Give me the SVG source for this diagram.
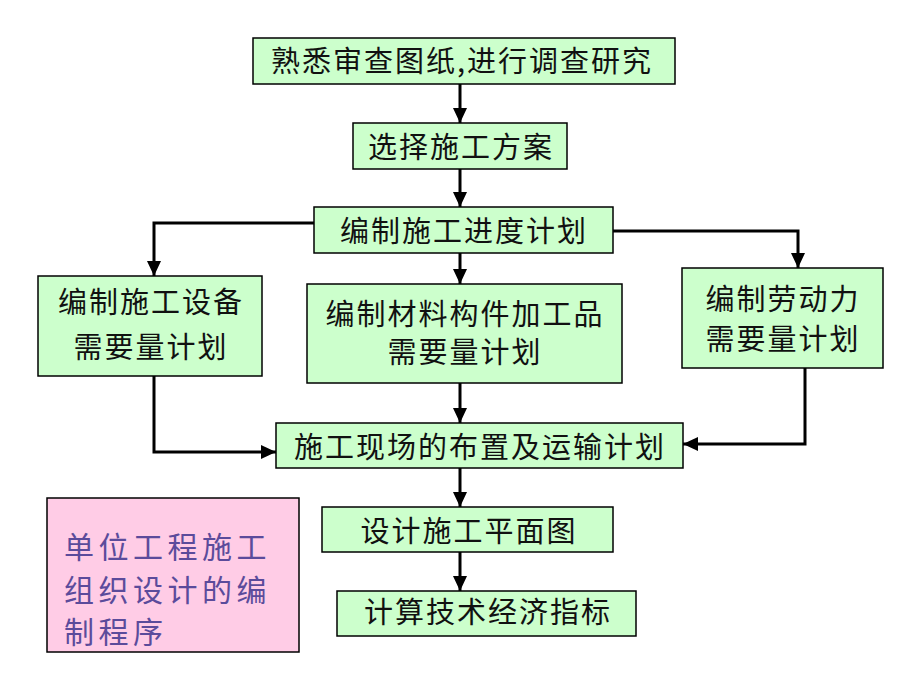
<svg xmlns="http://www.w3.org/2000/svg" width="920" height="690" viewBox="0 0 920 690">
<style>
.box{fill:#ccffcc;stroke:#000;stroke-width:1.5}
.t{font-family:"Noto Sans CJK SC","Liberation Sans",sans-serif;font-size:29px;fill:#111;text-anchor:middle;letter-spacing:2px}
.c{fill:none;stroke:#000;stroke-width:3;marker-end:url(#ah)}
.pk{fill:#ffcce6;stroke:#000;stroke-width:1.5}
.pt{font-family:"Noto Sans CJK SC","Liberation Sans",sans-serif;font-size:30px;fill:#5b4b9b;letter-spacing:4.5px}
</style>
<defs>
<marker id="ah" markerUnits="userSpaceOnUse" markerWidth="16" markerHeight="16" refX="15" refY="7" orient="auto">
<path d="M0,0 L15,7 L0,14 Z" fill="#000"/>
</marker>
</defs>
<rect width="920" height="690" fill="#fff"/>
<g id="connectors">
<path class="c" d="M460,84 V123"/>
<path class="c" d="M460,169 V207"/>
<path class="c" d="M314,223 H154 V276"/>
<path class="c" d="M460,253 V284"/>
<path class="c" d="M613,231 H798 V268"/>
<path class="c" d="M154,376 V452 H276"/>
<path class="c" d="M460,383 V423"/>
<path class="c" d="M805,368 V444 H683"/>
<path class="c" d="M460,468 V507"/>
<path class="c" d="M460,552 V591"/>
</g>
<g id="n1"><rect class="box" x="253" y="38" width="422" height="46"/><text class="t" x="462" y="72">熟悉审查图纸,进行调查研究</text></g>
<g id="n2"><rect class="box" x="353" y="123" width="214" height="46"/><text class="t" x="461" y="158">选择施工方案</text></g>
<g id="n3"><rect class="box" x="314" y="207" width="299" height="46"/><text class="t" x="464" y="242">编制施工进度计划</text></g>
<g id="n4"><rect class="box" x="38" y="276" width="224" height="100"/><text class="t" x="151" y="313">编制施工设备</text><text class="t" x="151" y="358">需要量计划</text></g>
<g id="n5"><rect class="box" x="307" y="284" width="315" height="99"/><text class="t" x="465" y="325">编制材料构件加工品</text><text class="t" x="465" y="363">需要量计划</text></g>
<g id="n6"><rect class="box" x="682" y="268" width="201" height="100"/><text class="t" x="783" y="310">编制劳动力</text><text class="t" x="783" y="350">需要量计划</text></g>
<g id="n7"><rect class="box" x="276" y="423" width="407" height="45"/><text class="t" x="480" y="458">施工现场的布置及运输计划</text></g>
<g id="n8"><rect class="box" x="322" y="507" width="291" height="45"/><text class="t" x="469" y="542">设计施工平面图</text></g>
<g id="n9"><rect class="box" x="337" y="591" width="299" height="45"/><text class="t" x="488" y="623">计算技术经济指标</text></g>
<g id="title"><rect class="pk" x="47" y="498" width="252" height="154"/>
<text class="pt" x="64" y="558">单位工程施工</text>
<text class="pt" x="64" y="601">组织设计的编</text>
<text class="pt" x="64" y="643">制程序</text></g>
</svg>
